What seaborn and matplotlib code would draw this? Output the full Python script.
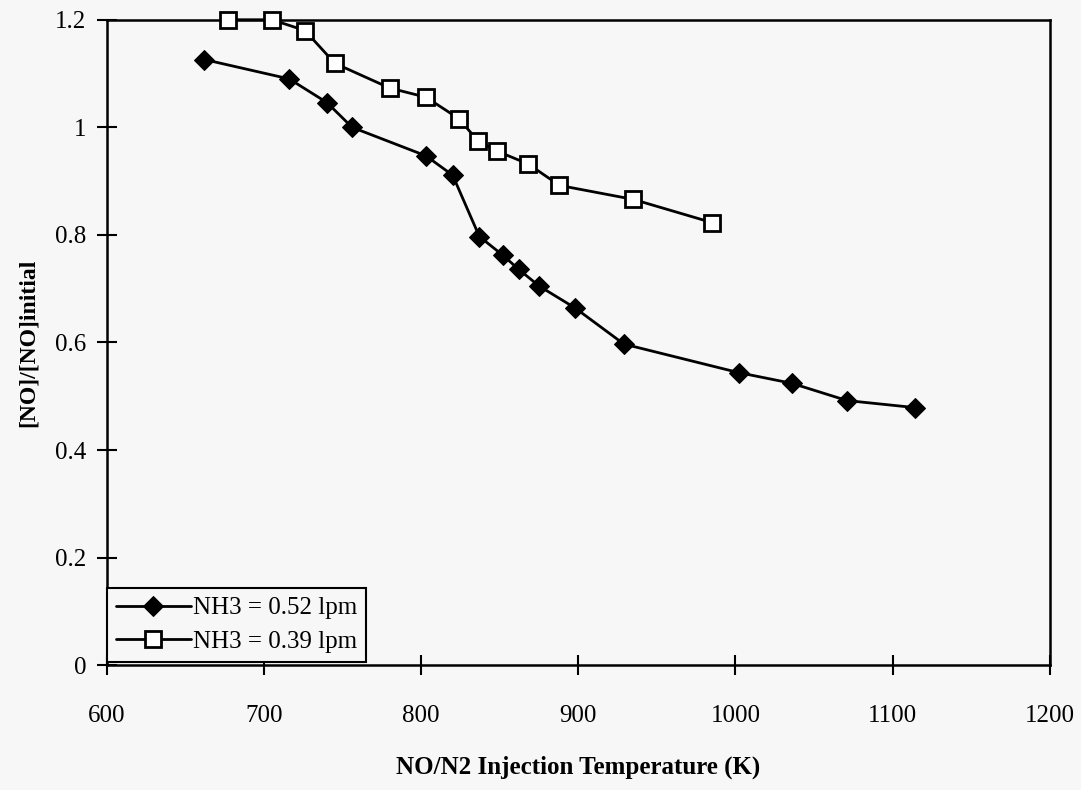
import matplotlib
matplotlib.use("Agg")
import matplotlib.pyplot as plt
import seaborn as sns
import pandas as pd
from matplotlib.ticker import FuncFormatter

temp_052 = [662, 716, 740, 756, 803, 820, 837, 852, 862, 875, 898, 929, 1002, 1036, 1071, 1114]
ratio_052 = [1.126, 1.09, 1.046, 1.0, 0.947, 0.911, 0.797, 0.762, 0.736, 0.705, 0.664, 0.597,
             0.544, 0.524, 0.492, 0.479]
temp_039 = [677, 705, 726, 745, 780, 803, 824, 836, 848, 868, 888, 935, 985]
ratio_039 = [1.2, 1.2, 1.18, 1.119, 1.073, 1.056, 1.016, 0.975, 0.956, 0.932, 0.892, 0.866, 0.823]
labels = ["NH3 = 0.52 lpm", "NH3 = 0.39 lpm"]
x_ticks = [600, 700, 800, 900, 1000, 1100, 1200]
y_ticks = [0, 0.2, 0.4, 0.6, 0.8, 1.0, 1.2]

sns.set_style("ticks")
plt.rcParams['font.family'] = ['Liberation Serif', 'DejaVu Serif']
plt.rcParams['text.color'] = 'black'
plt.rcParams['axes.labelcolor'] = 'black'
bg = "#f7f7f7"
fig = plt.figure(figsize=(10.81, 7.90), dpi=100, facecolor=bg)
ax = fig.add_axes([0.099, 0.158, 0.872, 0.817])
ax.set_facecolor(bg)

df1 = pd.DataFrame({"T": temp_052, "R": ratio_052})
df2 = pd.DataFrame({"T": temp_039, "R": ratio_039})
sns.lineplot(data=df1, x="T", y="R", ax=ax, color="black", linewidth=2, marker="D",
             markersize=10, markerfacecolor="black", markeredgecolor="black",
             label=labels[0], sort=False, clip_on=False, zorder=3)
sns.lineplot(data=df2, x="T", y="R", ax=ax, color="black", linewidth=2, marker="s",
             markersize=11, markerfacecolor="white", markeredgecolor="black", markeredgewidth=2,
             label=labels[1], sort=False, clip_on=False, zorder=3)

ax.set_xlim(600, 1200)
ax.set_ylim(0, 1.2)
ax.set_xticks(x_ticks)
ax.set_yticks(y_ticks)
ax.yaxis.set_major_formatter(FuncFormatter(lambda v, p: f"{v:g}"))
ax.tick_params(axis="both", direction="inout", length=14, width=1.5, labelsize=18,
               colors="black")
ax.tick_params(axis="x", pad=22)
ax.tick_params(axis="y", pad=8)
for s in ax.spines.values():
    s.set_visible(True)
    s.set_linewidth(1.8)
    s.set_color("black")

ax.set_xlabel("NO/N2 Injection Temperature (K)", fontsize=18, fontweight="bold", labelpad=20)
ax.set_ylabel("[NO]/[NO]initial", fontsize=17, fontweight="bold", labelpad=12)

leg = ax.legend(loc="lower left", bbox_to_anchor=(0.0, 0.005), borderaxespad=0,
                fontsize=18, frameon=True, fancybox=False, edgecolor="black",
                framealpha=1, facecolor=bg, handlelength=3.0, handletextpad=0.1,
                labelspacing=0.45, borderpad=0.35)
leg.get_frame().set_linewidth(1.5)

fig.savefig("out.png", dpi=100, facecolor=bg)
